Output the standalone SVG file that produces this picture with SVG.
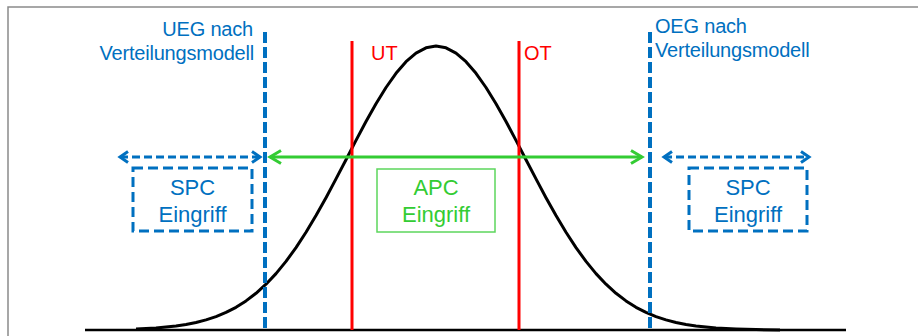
<svg xmlns="http://www.w3.org/2000/svg" width="918" height="336" viewBox="0 0 918 336">
<style>
text{font-family:"Liberation Sans",Arial,sans-serif;font-size:20px}
text.box{font-size:22px}
.blue{fill:#0070C0}
.red{fill:#FF0000}
.green{fill:#33CC33}
.lim{stroke:#0070C0;stroke-width:4;stroke-dasharray:11 4;fill:none}
.tol{stroke:#FF0000;stroke-width:3;fill:none}
.spc{stroke:#0070C0;stroke-width:3;stroke-dasharray:10 5;fill:none}
.apc{stroke:#5CD65C;stroke-width:1.5;fill:none}
.barr{stroke:#0070C0;stroke-width:3;stroke-dasharray:8 4;fill:none}
.garr{stroke:#33CC33;stroke-width:3;fill:none}
</style>
<defs>
<marker id="gh" markerUnits="userSpaceOnUse" viewBox="-13 -8 15 16" markerWidth="15" markerHeight="16" refX="0" refY="0" orient="auto-start-reverse" overflow="visible">
<path d="M-11,-6.5 L0,0 L-11,6.5" fill="none" stroke="#33CC33" stroke-width="3"/>
</marker>
<marker id="bh" markerUnits="userSpaceOnUse" viewBox="-10 -7 12 14" markerWidth="12" markerHeight="14" refX="0" refY="0" orient="auto-start-reverse" overflow="visible">
<path d="M-8,-5.5 L0,0 L-8,5.5" fill="none" stroke="#0070C0" stroke-width="3" stroke-dasharray="none"/>
</marker>
</defs>
<rect width="918" height="336" fill="#ffffff"/>
<g id="frame">
<path d="M8,336 L8,7 L918,7" fill="none" stroke="#8a8a8a" stroke-width="1.5"/>
</g>
<g id="curve">
<line x1="85" y1="330" x2="846" y2="330" stroke="#000" stroke-width="2.5"/>
<polyline fill="none" stroke="#000" stroke-width="3" stroke-linejoin="round" points="136,329 146,328.6 156,328 166,327.1 176,326 186,324.5 196,322.5 206,319.9 216,316.6 226,312.4 236,307.3 246,300.9 256,293.3 266,284.2 276,273.6 286,261.4 296,247.6 306,232.3 316,215.6 326,197.7 336,178.9 346,159.7 356,140.4 366,121.5 376,103.7 386,87.5 396,73.3 406,61.7 416,53.1 426,47.8 436,46 446,47.8 456,53.1 466,61.7 476,73.3 486,87.5 496,103.7 506,121.5 516,140.4 526,159.7 536,178.9 546,197.7 556,215.6 566,232.3 576,247.6 586,261.4 596,273.6 606,284.2 616,293.3 626,300.9 636,307.3 646,312.4 656,316.6 666,319.9 676,322.5 686,324.5 696,326 706,327.1 716,328 726,328.6 736,329 756,329.6 780,329.9"/>
</g>
<g id="ueg">
<line class="lim" x1="265" y1="32" x2="265" y2="330"/>
<text class="blue" x="253" y="36" text-anchor="end" letter-spacing="-0.2">UEG nach</text>
<text class="blue" x="254" y="60" text-anchor="end" letter-spacing="-0.2">Verteilungsmodell</text>
</g>
<g id="oeg">
<line class="lim" x1="650" y1="32" x2="650" y2="330"/>
<text class="blue" x="655" y="33" letter-spacing="-0.2">OEG nach</text>
<text class="blue" x="655" y="57" letter-spacing="-0.2">Verteilungsmodell</text>
</g>
<g id="ut">
<line class="tol" x1="352" y1="41" x2="352" y2="330"/>
<text class="red" x="371" y="60">UT</text>
</g>
<g id="ot">
<line class="tol" x1="519" y1="41" x2="519" y2="330"/>
<text class="red" x="524" y="60">OT</text>
</g>
<g id="spc-left">
<rect class="spc" x="133" y="168" width="119" height="63"/>
<text class="blue box" x="192.5" y="195" text-anchor="middle">SPC</text>
<text class="blue box" x="192.5" y="222" text-anchor="middle">Eingriff</text>
</g>
<g id="apc">
<rect class="apc" x="377" y="169" width="118" height="63"/>
<text class="green box" x="436" y="195" text-anchor="middle">APC</text>
<text class="green box" x="436" y="222" text-anchor="middle">Eingriff</text>
</g>
<g id="spc-right">
<rect class="spc" x="689" y="168" width="118" height="63"/>
<text class="blue box" x="748" y="195" text-anchor="middle">SPC</text>
<text class="blue box" x="748" y="222" text-anchor="middle">Eingriff</text>
</g>
<g id="connectors">
<line class="garr" x1="270" y1="157" x2="642" y2="157" marker-start="url(#gh)" marker-end="url(#gh)"/>
<line class="barr" x1="120" y1="157" x2="260" y2="157" marker-start="url(#bh)" marker-end="url(#bh)"/>
<line class="barr" x1="664" y1="157" x2="809" y2="157" marker-start="url(#bh)" marker-end="url(#bh)"/>
</g>
</svg>
